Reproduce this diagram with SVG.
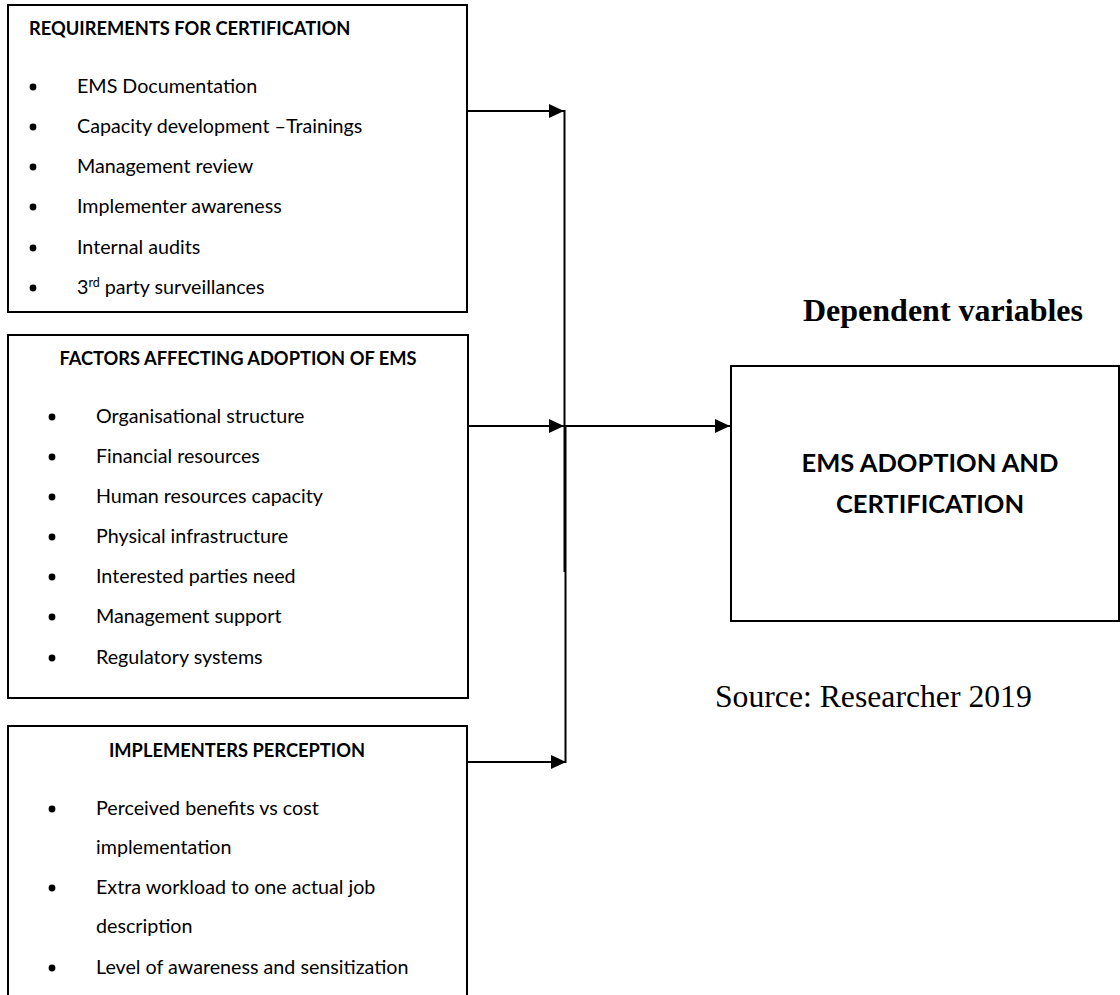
<svg xmlns="http://www.w3.org/2000/svg" width="1120" height="995" viewBox="0 0 1120 995">
<defs>
<style>
.box{fill:none;stroke:#000;stroke-width:2}
.h{font-family:Lato,"Noto Sans",sans-serif;font-weight:bold;font-size:18.3px;fill:#000}
.t{font-family:Lato,"Noto Sans",sans-serif;font-size:19.7px;fill:#000}
.b{fill:#000}
.c{stroke:#000;stroke-width:2;fill:none}
.big{font-family:Lato,"Noto Sans",sans-serif;font-weight:bold;font-size:25.5px;fill:#000;text-anchor:middle}
.serif{font-family:"Liberation Serif","Times New Roman",serif;fill:#000}
</style>
<marker id="ah" markerUnits="userSpaceOnUse" markerWidth="16" markerHeight="16" viewBox="0 0 16 16" refX="15" refY="8" orient="auto">
<path d="M0,1 L15,8 L0,15 Z" fill="#000"/>
</marker>
</defs>
<rect width="1120" height="995" fill="#fff"/>

<g id="node-requirements">
<rect class="box" x="8" y="5" width="459" height="307"/>
<text class="h" x="29" y="35">REQUIREMENTS FOR CERTIFICATION</text>
<circle class="b" cx="33" cy="87" r="3.4"/><text class="t" x="77" y="93">EMS Documentation</text>
<circle class="b" cx="33" cy="127" r="3.4"/><text class="t" x="77" y="133">Capacity development –Trainings</text>
<circle class="b" cx="33" cy="167" r="3.4"/><text class="t" x="77" y="173">Management review</text>
<circle class="b" cx="33" cy="207" r="3.4"/><text class="t" x="77" y="213">Implementer awareness</text>
<circle class="b" cx="33" cy="248" r="3.4"/><text class="t" x="77" y="254">Internal audits</text>
<circle class="b" cx="33" cy="288" r="3.4"/><text class="t" x="77" y="294">3<tspan font-size="12.5" dy="-7">rd</tspan><tspan dy="7"> party surveillances</tspan></text>
</g>

<g id="node-factors">
<rect class="box" x="8" y="335" width="460" height="363"/>
<text class="h" x="238" y="365" text-anchor="middle">FACTORS AFFECTING ADOPTION OF EMS</text>
<circle class="b" cx="52" cy="417" r="3.4"/><text class="t" x="96" y="423">Organisational structure</text>
<circle class="b" cx="52" cy="457" r="3.4"/><text class="t" x="96" y="463">Financial resources</text>
<circle class="b" cx="52" cy="497" r="3.4"/><text class="t" x="96" y="503">Human resources capacity</text>
<circle class="b" cx="52" cy="537" r="3.4"/><text class="t" x="96" y="543">Physical infrastructure</text>
<circle class="b" cx="52" cy="577" r="3.4"/><text class="t" x="96" y="583">Interested parties need</text>
<circle class="b" cx="52" cy="617" r="3.4"/><text class="t" x="96" y="623">Management support</text>
<circle class="b" cx="52" cy="658" r="3.4"/><text class="t" x="96" y="664">Regulatory systems</text>
</g>

<g id="node-perception">
<path class="box" d="M8,1000 V726 H467 V1000"/>
<text class="h" x="237" y="757" text-anchor="middle">IMPLEMENTERS PERCEPTION</text>
<circle class="b" cx="52" cy="809" r="3.4"/><text class="t" x="96" y="815">Perceived benefits vs cost</text>
<text class="t" x="96" y="854">implementation</text>
<circle class="b" cx="52" cy="888" r="3.4"/><text class="t" x="96" y="894">Extra workload to one actual job</text>
<text class="t" x="96" y="933">description</text>
<circle class="b" cx="52" cy="968" r="3.4"/><text class="t" x="96" y="974">Level of awareness and sensitization</text>
</g>

<g id="node-ems">
<path class="box" d="M1119,366 H731 V621 H1119 Z"/>
<text class="big" x="930" y="472">EMS ADOPTION AND</text>
<text class="big" x="930" y="513">CERTIFICATION</text>
</g>

<g id="label-dependent">
<text class="serif" x="803" y="321" font-size="32" font-weight="bold">Dependent variables</text>
</g>
<g id="label-source">
<text class="serif" x="715" y="707" font-size="31.7">Source: Researcher 2019</text>
</g>

<g id="connectors">
<line class="c" x1="468" y1="111" x2="564" y2="111" marker-end="url(#ah)"/>
<line class="c" x1="468" y1="426" x2="564" y2="426" marker-end="url(#ah)"/>
<line class="c" x1="468" y1="762" x2="566" y2="762" marker-end="url(#ah)"/>
<line class="c" x1="564.5" y1="110" x2="564.5" y2="572"/>
<line class="c" x1="565.5" y1="425" x2="565.5" y2="763"/>
<line class="c" x1="565" y1="426" x2="730" y2="426" marker-end="url(#ah)"/>
</g>
</svg>
